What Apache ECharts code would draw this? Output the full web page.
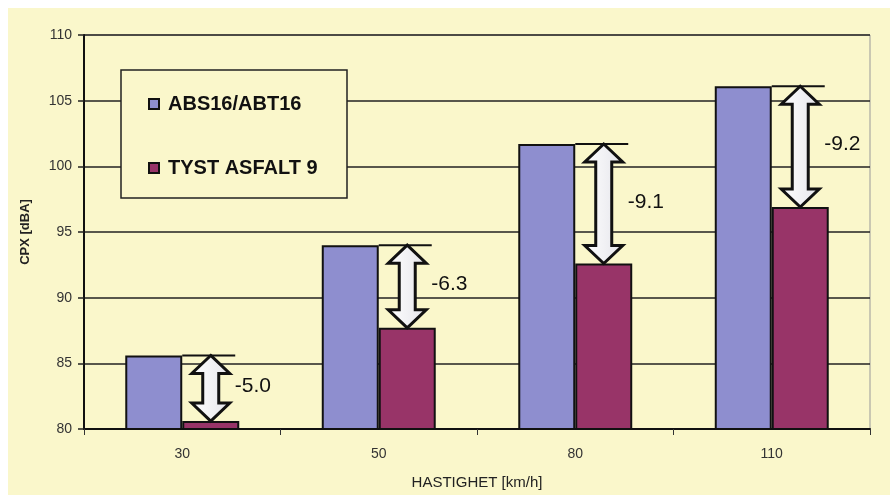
<!DOCTYPE html>
<html>
<head>
<meta charset="utf-8">
<script src="https://cdn.jsdelivr.net/npm/echarts@6/dist/echarts.min.js"></script>
<style>
  html, body { margin: 0; padding: 0; background: #ffffff; }
  #chart { width: 890px; height: 495px; }
</style>
</head>
<body>
<div id="chart"></div>
<script>
// Speeds (km/h) and measured CPX levels (dBA) for the two surfaces
const speeds = ['30', '50', '80', '110'];
const absValues = [85.6, 94.0, 101.7, 106.1];   // ABS16/ABT16
const tystValues = [80.6, 87.7, 92.6, 96.9];    // TYST ASFALT 9
const seriesNames = ['ABS16/ABT16', 'TYST ASFALT 9'];
const yTicks = [80, 85, 90, 95, 100, 105, 110];

const CREAM = '#faf7cb';
const BAR_GAP = 0.42;

// one record per speed: [category index, upper level, lower level]
const diffData = speeds.map((s, i) => [i, absValues[i], tystValues[i]]);

function renderDiff(params, api) {
  const ci = api.value(0), hi = api.value(1), lo = api.value(2);
  const pTop = api.coord([ci, hi]);
  const pBot = api.coord([ci, lo]);
  const band = api.size([1, 0])[0];
  const barW = band * (1 - BAR_GAP) / 2;
  const cx = pTop[0] + barW / 2;         // centre of the second bar
  const yT = pTop[1], yB = pBot[1];
  const hw = 19, sw = 8, hl = 18;
  const pts = [
    [cx, yT], [cx + hw, yT + hl], [cx + sw, yT + hl],
    [cx + sw, yB - hl], [cx + hw, yB - hl], [cx, yB],
    [cx - hw, yB - hl], [cx - sw, yB - hl], [cx - sw, yT + hl],
    [cx - hw, yT + hl]
  ];
  return {
    type: 'group',
    children: [
      {
        type: 'line',
        shape: { x1: pTop[0], y1: yT, x2: pTop[0] + barW - 4, y2: yT },
        style: { stroke: '#111', lineWidth: 2 }
      },
      {
        type: 'polygon',
        shape: { points: pts },
        style: {
          fill: new echarts.graphic.LinearGradient(0, 0, 1, 0, [
            { offset: 0, color: '#ffffff' },
            { offset: 1, color: '#e4e4ea' }
          ]),
          stroke: '#111', lineWidth: 3, lineJoin: 'miter'
        }
      },
      {
        type: 'text',
        x: cx + 24,
        y: (yT + yB) / 2 - 2,
        style: {
          text: (lo - hi).toFixed(1),
          fill: '#111',
          font: '21px "Liberation Sans", Arial, sans-serif',
          align: 'left',
          verticalAlign: 'middle'
        }
      }
    ]
  };
}

const chart = echarts.init(document.getElementById('chart'), null, { renderer: 'canvas' });

chart.setOption({
  backgroundColor: '#ffffff',
  animation: false,
  textStyle: { fontFamily: '"Liberation Sans", Arial, sans-serif' },
  graphic: [
    {
      type: 'rect', z: -100,
      shape: { x: 8, y: 8, width: 882, height: 487 },
      style: { fill: CREAM }
    },
    {
      type: 'rect', z: 50,
      shape: { x: 121, y: 70, width: 226, height: 128 },
      style: { fill: CREAM, stroke: '#222', lineWidth: 1.5 }
    }
  ],
  grid: {
    left: 84, right: 20, top: 35, bottom: 65,
    show: true, borderColor: '#999', borderWidth: 1, backgroundColor: 'transparent'
  },
  legend: {
    orient: 'vertical',
    left: 148, top: 94,
    z: 60,
    itemWidth: 10, itemHeight: 10,
    itemGap: 44,
    padding: 0,
    icon: 'rect',
    textStyle: {
      fontSize: 20, fontWeight: 'bold', color: '#111',
      fontFamily: '"Liberation Sans", Arial, sans-serif',
      padding: [0, 0, 0, 4]
    },
    data: seriesNames
  },
  xAxis: {
    type: 'category',
    data: speeds,
    name: 'HASTIGHET [km/h]',
    nameLocation: 'middle',
    nameGap: 46,
    nameTextStyle: { fontSize: 15, color: '#222' },
    axisLine: { lineStyle: { color: '#111', width: 2 } },
    axisTick: { show: true, length: 6, lineStyle: { color: '#333' } },
    axisLabel: { fontSize: 14, color: '#333', margin: 18 },
    splitLine: { show: false }
  },
  yAxis: {
    type: 'value',
    min: 80, max: 110, interval: 5,
    name: 'CPX [dBA]',
    nameLocation: 'middle',
    nameGap: 52,
    nameRotate: 90,
    nameTextStyle: { fontSize: 13, fontWeight: 'bold', color: '#222' },
    axisLine: { show: true, lineStyle: { color: '#111', width: 2 } },
    axisTick: { show: true, length: 6, lineStyle: { color: '#222', width: 1.5 } },
    axisLabel: {
      fontSize: 14, color: '#333', margin: 12,
      formatter: v => (yTicks.indexOf(v) >= 0 ? String(v) : '')
    },
    splitLine: { show: true, lineStyle: { color: '#222', width: 1.5 } }
  },
  series: [
    {
      name: seriesNames[0],
      type: 'bar',
      data: absValues,
      barGap: '0%',
      barCategoryGap: (BAR_GAP * 100) + '%',
      itemStyle: { color: '#8e8ecf', borderColor: '#111', borderWidth: 2 },
      z: 3
    },
    {
      name: seriesNames[1],
      type: 'bar',
      data: tystValues,
      barGap: '0%',
      barCategoryGap: (BAR_GAP * 100) + '%',
      itemStyle: { color: '#983468', borderColor: '#111', borderWidth: 2 },
      z: 3
    },
    {
      type: 'custom',
      renderItem: renderDiff,
      data: diffData,
      encode: { x: 0, y: [1, 2] },
      z: 5,
      silent: true
    }
  ]
});
</script>
</body>
</html>
